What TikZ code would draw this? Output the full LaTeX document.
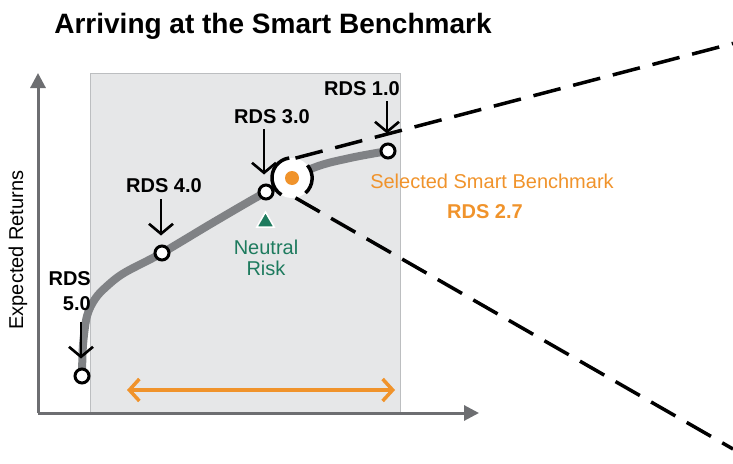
\documentclass[tikz,border=0pt]{standalone}
\usepackage{fontspec}
\setmainfont{Liberation Sans}
\usetikzlibrary{arrows.meta,shapes.geometric}
\definecolor{panelfill}{HTML}{E6E7E8}
\definecolor{panelline}{HTML}{BCBEC0}
\definecolor{axisgray}{HTML}{6D6E71}
\definecolor{curvegray}{HTML}{808285}
\definecolor{orng}{HTML}{F0932B}
\definecolor{grn}{HTML}{1E7B5E}
\tikzset{
  pt/.style={circle,draw=black,fill=white,line width=3pt,minimum size=14pt,inner sep=0pt},
  rdslabel/.style={font=\fontsize{20}{25}\selectfont\bfseries,inner sep=0pt,anchor=base},
  downarrow/.style={line width=2.6pt,shorten >=9pt,-{Straight Barb[length=10pt,width=24pt,line width=2.6pt]}},
  axisline/.style={axisgray,line width=3pt,-{Triangle[length=15pt,width=15pt]}},
  zoomline/.style={line width=3.5pt,dash pattern=on 28pt off 13pt},
}
\begin{document}
\begin{tikzpicture}[x=1pt,y=-1pt]
\useasboundingbox (0,0) rectangle (733,463);
% title
\node[font=\fontsize{28}{30}\selectfont\bfseries,inner sep=0pt,anchor=base] (title) at (273,33) {Arriving at the Smart Benchmark};
% panel
\node[draw=panelline,fill=panelfill,line width=0.8pt,minimum width=310pt,minimum height=340pt,inner sep=0pt,anchor=north west] (panel) at (90,73) {};
% axes
\coordinate (origin) at (38,413);
\coordinate (ytip) at (38,73);
\coordinate (xtip) at (479,413);
\draw[axisline] (origin) -- (ytip);
\draw[axisline] (origin) -- (xtip);
\node[rotate=90,font=\fontsize{20}{22}\selectfont,inner sep=0pt] (ylab) at (18,250) {Expected Returns};
% points
\coordinate (c5) at (82,376);
\coordinate (c4) at (162,253);
\coordinate (c3) at (266,192);
\coordinate (c1) at (388,151);
% curve
\draw[curvegray,line width=8pt,line cap=round] plot[smooth,tension=0.55] coordinates {(c5) (83,345) (87,316) (95,299) (106,287) (124,273) (c4) (214,222) (c3) (313,168) (350,158) (c1)};
% magnifier
\node[circle,fill=white,minimum size=40pt,inner sep=0pt] (mag) at (292,178) {};
\node[circle,fill=orng,minimum size=14pt,inner sep=0pt] (dot) at (mag) {};
\draw[line width=3.5pt] (mag.98) arc[start angle=98,end angle=238,radius=20pt];
\draw[line width=3.5pt] (mag.-48) arc[start angle=-48,end angle=40,radius=20pt];
% dashed zoom lines
\coordinate (ue) at (733,43.4);
\coordinate (le) at (733,449);
\draw[zoomline] (mag.80) -- (ue);
\draw[zoomline] (mag.-80) -- (le);
% point circles
\node[pt] (r5) at (c5) {};
\node[pt] (r4) at (c4) {};
\node[pt] (r3) at (c3) {};
\node[pt] (r1) at (c1) {};
% labels
\node[rdslabel] (l1) at (362,95) {RDS 1.0};
\node[rdslabel] (l3) at (272,123) {RDS 3.0};
\node[rdslabel] (l4) at (164,192) {RDS 4.0};
\node[font=\fontsize{20}{25}\selectfont\bfseries,inner sep=0pt,align=right,anchor=east] (l5) at (91,291) {RDS\\5.0};
\coordinate (a1) at (387,101);
\coordinate (a3) at (264,129);
\coordinate (a4) at (161,199);
\coordinate (a5) at (81,322);
\draw[downarrow] (a1) -- (a1 |- r1.north);
\draw[downarrow] (a3) -- (a3 |- r3.north);
\draw[downarrow] (a4) -- (a4 |- r4.north);
\draw[downarrow] (a5) -- (a5 |- r5.north);
% neutral risk
\node[regular polygon,regular polygon sides=3,fill=grn,draw=white,line width=1.5pt,minimum size=20pt,inner sep=0pt] (tri) at (265.5,222) {};
\node[text=grn,font=\fontsize{20}{21}\selectfont,inner sep=0pt,align=center,anchor=north] (neutral) at (266,240) {Neutral\\Risk};
% selected
\node[text=orng,font=\fontsize{20}{22}\selectfont,inner sep=0pt,anchor=base] (sel) at (492,188) {Selected Smart Benchmark};
\node[text=orng,font=\fontsize{20}{22}\selectfont\bfseries,inner sep=0pt,anchor=base] (rds27) at (485,218) {RDS 2.7};
% orange double arrow
\coordinate (oa) at (127,390);
\coordinate (ob) at (395,390);
\draw[orng,line width=3.5pt,{Straight Barb[length=10pt,width=22pt,line width=3.5pt]}-{Straight Barb[length=10pt,width=22pt,line width=3.5pt]}] (oa) -- (ob);
\end{tikzpicture}
\end{document}
